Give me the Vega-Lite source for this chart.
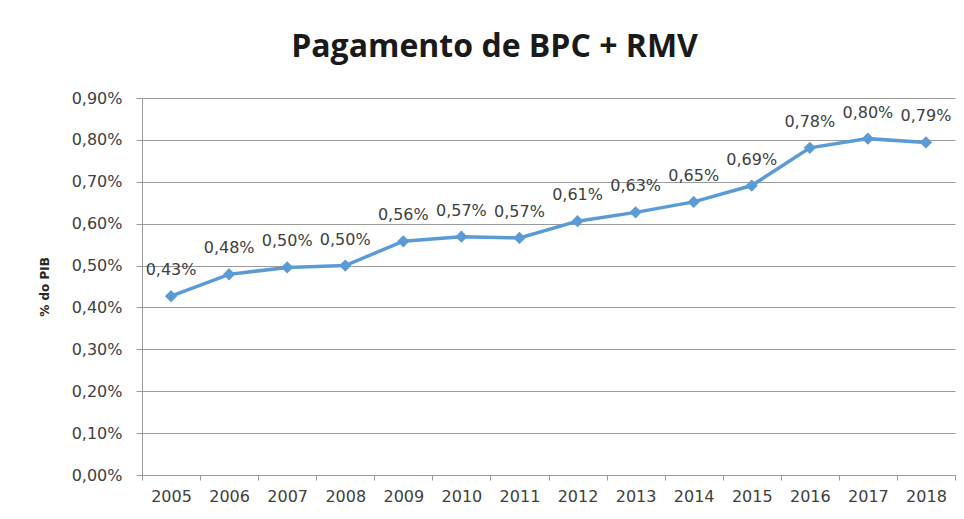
{
  "$schema": "https://vega.github.io/schema/vega-lite/v6.json",
  "width": 813,
  "height": 377,
  "autosize": {"type": "none"},
  "padding": {"left": 142, "top": 98, "right": 9, "bottom": 44},
  "background": "white",
  "config": {
    "locale": {"number": {"decimal": ",", "thousands": ".", "grouping": [3], "currency": ["R$", ""]}},
    "view": {"stroke": null},
    "font": "DejaVu Sans"
  },
  "title": {
    "text": "Pagamento de BPC + RMV",
    "font": "Open Sans",
    "fontSize": 32,
    "fontWeight": "bold",
    "color": "#1a1a1a",
    "offset": 26,
    "dx": -54
  },
  "data": {
    "values": [
      {"ano": "2005", "valor": 0.00427},
      {"ano": "2006", "valor": 0.00479},
      {"ano": "2007", "valor": 0.004956},
      {"ano": "2008", "valor": 0.00500},
      {"ano": "2009", "valor": 0.00558},
      {"ano": "2010", "valor": 0.00569},
      {"ano": "2011", "valor": 0.00566},
      {"ano": "2012", "valor": 0.00606},
      {"ano": "2013", "valor": 0.00627},
      {"ano": "2014", "valor": 0.00652},
      {"ano": "2015", "valor": 0.00691},
      {"ano": "2016", "valor": 0.00781},
      {"ano": "2017", "valor": 0.00803},
      {"ano": "2018", "valor": 0.00794}
    ]
  },
  "encoding": {
    "x": {
      "field": "ano",
      "type": "ordinal",
      "scale": {"type": "band", "paddingInner": 0, "paddingOuter": 0},
      "axis": {
        "title": null,
        "labelAngle": 0,
        "labelFont": "DejaVu Sans",
        "labelFontSize": 16,
        "labelColor": "#404040",
        "labelPadding": 8,
        "domainColor": "#9a9a9a",
        "tickColor": "#9a9a9a",
        "tickSize": 5,
        "tickBand": "extent",
        "grid": false
      }
    },
    "y": {
      "field": "valor",
      "type": "quantitative",
      "scale": {"domain": [0, 0.009], "nice": false},
      "axis": {
        "title": "% do PIB",
        "titleFont": "DejaVu Sans",
        "titleFontSize": 12,
        "titleFontWeight": "bold",
        "titleColor": "#262626",
        "titlePadding": 20,
        "format": ".2%",
        "values": [0, 0.001, 0.002, 0.003, 0.004, 0.005, 0.006, 0.007, 0.008, 0.009],
        "labelFont": "DejaVu Sans",
        "labelFontSize": 16,
        "labelColor": "#404040",
        "labelPadding": 14,
        "tickSize": 6,
        "tickColor": "#9a9a9a",
        "domainColor": "#9a9a9a",
        "gridColor": "#9a9a9a",
        "gridWidth": 1
      }
    }
  },
  "layer": [
    {
      "mark": {"type": "line", "color": "#5B9BD5", "strokeWidth": 3.5},
      "encoding": {}
    },
    {
      "mark": {"type": "point", "shape": "diamond", "filled": true, "color": "#5B9BD5", "size": 150, "opacity": 1},
      "encoding": {}
    },
    {
      "mark": {"type": "text", "font": "DejaVu Sans", "fontSize": 16, "color": "#404040", "baseline": "middle", "dy": -26},
      "encoding": {"text": {"field": "valor", "type": "quantitative", "format": ".2%"}}
    }
  ]
}
